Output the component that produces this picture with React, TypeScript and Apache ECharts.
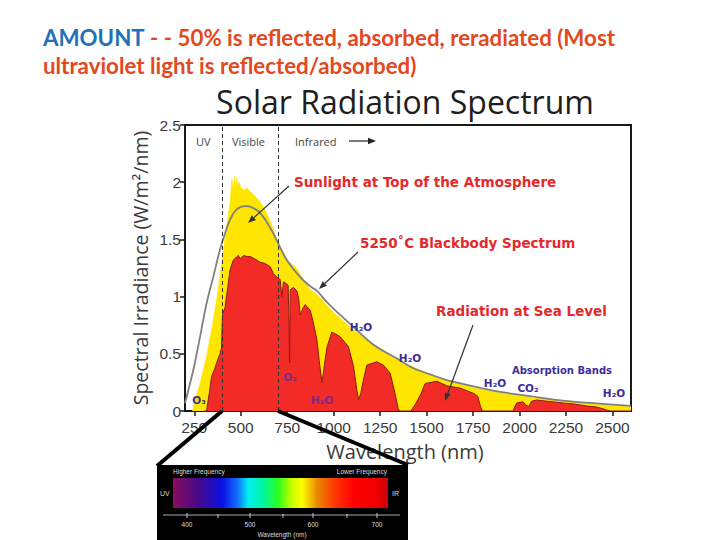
import React, { useEffect, useRef } from "react";
import * as echarts from "echarts";

// Sunlight at top of the atmosphere: [wavelength nm, irradiance W/m²/nm]
const topOfAtmosphere: [number, number][] = [
  [240, 0], [254, 0.1], [281, 0.24], [316, 0.48], [343, 0.71], [370, 0.97], [397, 1.29],
  [415, 1.52], [442, 1.82], [452, 2.03], [460, 1.95], [466, 2.05], [472, 1.96], [478, 2.04],
  [485, 1.97], [492, 2.0], [500, 1.96], [515, 1.93], [535, 1.95], [551, 1.92], [575, 1.88],
  [605, 1.83], [630, 1.76], [659, 1.66], [694, 1.5], [748, 1.32], [800, 1.25], [874, 1.06],
  [910, 1.02], [1000, 0.86], [1100, 0.72], [1200, 0.6], [1300, 0.5], [1400, 0.405],
  [1500, 0.335], [1600, 0.275], [1700, 0.23], [1800, 0.19], [1900, 0.16], [2000, 0.135],
  [2100, 0.115], [2200, 0.095], [2300, 0.08], [2400, 0.065], [2500, 0.052], [2600, 0.04],
];

// Radiation at sea level
const seaLevel: [number, number][] = [
  [305, 0], [316, 0], [330, 0.15], [343, 0.3], [360, 0.37], [370, 0.42], [388, 0.5],
  [396, 0.55], [402, 0.85], [415, 0.9], [430, 1.08], [442, 1.23], [460, 1.32], [487, 1.36],
  [497, 1.33], [515, 1.36], [533, 1.35], [551, 1.35], [575, 1.33], [605, 1.3], [630, 1.29],
  [659, 1.26], [676, 1.2], [694, 1.17], [712, 1.15], [721, 1.0], [730, 1.13], [739, 1.12],
  [755, 1.1], [760, 0.75], [763, 0.42], [766, 1.06], [784, 1.08], [802, 1.05], [812, 0.98],
  [820, 0.84], [835, 0.9], [847, 0.93], [874, 0.88], [891, 0.77], [910, 0.62], [925, 0.4],
  [937, 0.25], [950, 0.4], [963, 0.55], [990, 0.69], [1035, 0.65], [1080, 0.56], [1107, 0.39],
  [1125, 0.18], [1134, 0.1], [1145, 0.15], [1160, 0.27], [1178, 0.4], [1232, 0.43],
  [1268, 0.4], [1304, 0.33], [1330, 0.155], [1348, 0.01], [1360, 0], [1415, 0], [1440, 0.06],
  [1470, 0.15], [1492, 0.24], [1555, 0.26], [1609, 0.22], [1680, 0.2], [1752, 0.155],
  [1775, 0.13], [1790, 0.04], [1800, 0], [1965, 0], [1975, 0.04], [1985, 0.07], [2020, 0.08],
  [2035, 0.05], [2050, 0.04], [2065, 0.085], [2092, 0.096], [2150, 0.085], [2218, 0.073],
  [2300, 0.06], [2361, 0.044], [2415, 0.035], [2468, 0.01], [2490, 0], [2600, 0],
];

// 5250°C blackbody spectrum
const blackbody: [number, number][] = [
  [200, 0.07], [209, 0.125], [245, 0.36], [281, 0.65], [316, 0.94], [352, 1.17], [388, 1.41],
  [415, 1.55], [442, 1.67], [477, 1.76], [522, 1.79], [560, 1.78], [605, 1.73], [659, 1.6],
  [694, 1.49], [748, 1.32], [820, 1.17], [874, 1.09], [910, 1.05], [970, 0.94], [1035, 0.84],
  [1110, 0.73], [1214, 0.58], [1350, 0.45], [1420, 0.38], [1520, 0.32], [1600, 0.275],
  [1700, 0.235], [1850, 0.18], [1967, 0.15], [2100, 0.12], [2235, 0.09], [2400, 0.068],
  [2600, 0.045],
];

const xTickValues = [250, 500, 750, 1000, 1250, 1500, 1750, 2000, 2250, 2500];
const bandBoundaries = [400, 700];
const spectrumTickLabels = ["400", "500", "600", "700"];

const NAVY = "#3b2d9b";
const PURPLE = "#7b2a8f";
const RED_TXT = "#e5292b";

function arrow(x1: number, y1: number, x2: number, y2: number, color = "#333") {
  const ang = Math.atan2(y2 - y1, x2 - x1);
  const L = 8, W = 3.2;
  const bx = x2 - L * Math.cos(ang), by = y2 - L * Math.sin(ang);
  const px = -Math.sin(ang) * W, py = Math.cos(ang) * W;
  return {
    type: "group",
    children: [
      { type: "line", z: 100, shape: { x1, y1, x2: bx, y2: by }, style: { stroke: color, lineWidth: 1.2 } },
      {
        type: "polygon", z: 100,
        shape: { points: [[x2, y2], [bx + px, by + py], [bx - px, by - py]] },
        style: { fill: color },
      },
    ],
  };
}

function label(text: string, x: number, y: number, color: string, size = 10.5) {
  return {
    type: "text",
    x, y,
    style: {
      text, fill: color, font: `bold ${size}px "DejaVu Sans", sans-serif`,
      align: "center", verticalAlign: "middle",
    },
  };
}

export default function App() {
  const ref = useRef<HTMLDivElement>(null);
  useEffect(() => {
    const chart = echarts.init(ref.current!, null, { renderer: "svg" });
    const spectrumGradient = new echarts.graphic.LinearGradient(0, 0, 1, 0, [
      { offset: 0, color: "#8a0c5e" },
      { offset: 0.12, color: "#45098a" },
      { offset: 0.23, color: "#0a10e6" },
      { offset: 0.3, color: "#1070ff" },
      { offset: 0.35, color: "#00eef0" },
      { offset: 0.42, color: "#00f7a0" },
      { offset: 0.49, color: "#2cff1c" },
      { offset: 0.55, color: "#c2ff00" },
      { offset: 0.6, color: "#ffff00" },
      { offset: 0.67, color: "#e88a00" },
      { offset: 0.75, color: "#ff3a00" },
      { offset: 0.84, color: "#ff0000" },
      { offset: 0.95, color: "#f00000" },
      { offset: 1, color: "#c80010" },
    ]);
    const specTickX = [187, 218, 250, 283, 313, 347, 377];
    const annot = 'bold 13.5px "DejaVu Sans", sans-serif';
    const graphic: any[] = [
      {
        type: "text", x: 43, y: 37,
        style: {
          text: "{a|AMOUNT}{b| - - 50% is reflected, absorbed, reradiated (Most}",
          verticalAlign: "middle",
          rich: {
            a: { fill: "#1f72b8", font: 'bold 22.3px Lato, sans-serif' },
            b: { fill: "#e2491d", font: 'bold 22.3px Lato, sans-serif' },
          },
        },
      },
      {
        type: "text", x: 43, y: 65,
        style: {
          text: "ultraviolet light is reflected/absorbed)",
          fill: "#e2491d", font: 'bold 22.3px Lato, sans-serif', verticalAlign: "middle",
        },
      },
      {
        type: "text", x: 405, y: 101,
        style: {
          text: "Solar Radiation Spectrum", fill: "#1e1e1e",
          font: '32px "Open Sans", sans-serif', align: "center", verticalAlign: "middle",
        },
      },
      {
        type: "text", x: 140, y: 268, rotation: Math.PI / 2,
        style: {
          text: "Spectral Irradiance (W/m²/nm)", fill: "#3a3a3a",
          font: '19.5px "Open Sans", sans-serif', align: "center", verticalAlign: "middle",
        },
      },
      {
        type: "text", x: 405, y: 451,
        style: {
          text: "Wavelength (nm)", fill: "#3a3a3a",
          font: '20px "Open Sans", sans-serif', align: "center", verticalAlign: "middle",
        },
      },
      // band names
      { type: "text", x: 196, y: 141, style: { text: "UV", fill: "#444", font: '11px "Open Sans", sans-serif', verticalAlign: "middle" } },
      { type: "text", x: 232, y: 141, style: { text: "Visible", fill: "#444", font: '11px "Open Sans", sans-serif', verticalAlign: "middle" } },
      { type: "text", x: 295, y: 141, style: { text: "Infrared", fill: "#444", font: '11px "Open Sans", sans-serif', verticalAlign: "middle" } },
      arrow(349, 141, 376, 141, "#222"),
      // red annotations
      { type: "text", x: 294, y: 182, style: { text: "Sunlight at Top of the Atmosphere", fill: RED_TXT, font: annot, verticalAlign: "middle" } },
      { type: "text", x: 360, y: 243, style: { text: "5250˚C Blackbody Spectrum", fill: RED_TXT, font: annot, verticalAlign: "middle" } },
      { type: "text", x: 436, y: 311, style: { text: "Radiation at Sea Level", fill: RED_TXT, font: annot, verticalAlign: "middle" } },
      arrow(289, 186, 248, 223),
      arrow(358, 252, 319, 289),
      arrow(473, 325, 445, 401),
      // absorption labels
      label("H₂O", 361, 327, NAVY),
      label("H₂O", 410, 358, NAVY),
      label("H₂O", 322, 400, PURPLE),
      label("H₂O", 495, 383, NAVY),
      label("H₂O", 614, 393, NAVY),
      label("O₂", 290, 377, PURPLE),
      label("O₃", 199, 400, NAVY),
      label("CO₂", 528, 388, NAVY),
      label("Absorption Bands", 562, 370, NAVY, 10),
      // connector lines
      { type: "line", shape: { x1: 222, y1: 411, x2: 157, y2: 466 }, style: { stroke: "#000", lineWidth: 4 } },
      { type: "line", shape: { x1: 278, y1: 411, x2: 408, y2: 465 }, style: { stroke: "#000", lineWidth: 4 } },
      // visible spectrum inset
      { type: "rect", shape: { x: 157, y: 465, width: 251, height: 75 }, style: { fill: "#000" } },
      { type: "rect", shape: { x: 173, y: 478, width: 215, height: 30 }, style: { fill: spectrumGradient } },
      { type: "text", x: 173, y: 471, style: { text: "Higher Frequency", fill: "#ddd", font: '6.5px "Liberation Sans", sans-serif', verticalAlign: "middle" } },
      { type: "text", x: 387, y: 471, style: { text: "Lower Frequency", fill: "#ddd", font: '6.5px "Liberation Sans", sans-serif', align: "right", verticalAlign: "middle" } },
      { type: "text", x: 160, y: 493, style: { text: "UV", fill: "#ddd", font: '7px "Liberation Sans", sans-serif', verticalAlign: "middle" } },
      { type: "text", x: 399, y: 493, style: { text: "IR", fill: "#ddd", font: '7px "Liberation Sans", sans-serif', align: "right", verticalAlign: "middle" } },
      { type: "line", shape: { x1: 163, y1: 515, x2: 400, y2: 515 }, style: { stroke: "#aaa", lineWidth: 1 } },
      ...specTickX.map((tx, i) => ({
        type: "line", shape: { x1: tx, y1: i % 2 === 0 ? 513 : 514, x2: tx, y2: 518 }, style: { stroke: "#ccc", lineWidth: 1 },
      })),
      ...spectrumTickLabels.map((t, i) => ({
        type: "text", x: specTickX[i * 2], y: 524,
        style: { text: t, fill: "#ddd", font: '6.5px "Liberation Sans", sans-serif', align: "center", verticalAlign: "middle" },
      })),
      { type: "text", x: 282, y: 534, style: { text: "Wavelength (nm)", fill: "#ddd", font: '6.5px "Liberation Sans", sans-serif', align: "center", verticalAlign: "middle" } },
    ].map((g) => ({ ...g, z: 100 }));

    chart.setOption({
      animation: false,
      backgroundColor: "#fff",
      grid: {
        left: 185, right: 89, top: 125, bottom: 129,
        show: true, borderColor: "#1a1a1a", borderWidth: 2, backgroundColor: "#fff",
      },
      xAxis: {
        type: "value", min: 200, max: 2600,
        splitLine: { show: false },
        axisLine: { show: true, onZero: false, lineStyle: { color: "#1a1a1a", width: 2 } },
        axisTick: { show: true, customValues: xTickValues, length: 5, lineStyle: { color: "#1a1a1a", width: 1.5 } },
        axisLabel: {
          customValues: xTickValues, fontSize: 15.5, color: "#3a3a3a", margin: 8,
          fontFamily: "Liberation Sans", formatter: (v: number) => String(v),
        },
      },
      yAxis: {
        type: "value", min: 0, max: 2.5, interval: 0.5,
        splitLine: { show: false },
        axisLine: { show: true, lineStyle: { color: "#1a1a1a", width: 2 } },
        axisTick: { show: true, length: 5, lineStyle: { color: "#1a1a1a", width: 1.5 } },
        axisLabel: { fontSize: 15.5, color: "#3a3a3a", margin: 4, fontFamily: "Liberation Sans" },
      },
      series: [
        {
          type: "line", data: topOfAtmosphere, symbol: "none", z: 1,
          lineStyle: { color: "#ffe600", width: 0.5 },
          areaStyle: { color: "#ffe600", opacity: 1 },
        },
        {
          type: "line", data: seaLevel, symbol: "none", z: 2,
          lineStyle: { color: "#8a1c12", width: 1 },
          areaStyle: { color: "#f22b26", opacity: 1 },
        },
        {
          type: "line", data: blackbody, symbol: "none", smooth: 0.4, z: 3,
          lineStyle: { color: "#808080", width: 1.8 },
          markLine: {
            silent: true, symbol: ["none", "none"], label: { show: false },
            lineStyle: { color: "#333", type: [4, 3], width: 1 },
            emphasis: { disabled: true },
            data: bandBoundaries.map((v) => ({ xAxis: v })),
          },
        },
      ],
      graphic,
    });
    return () => chart.dispose();
  }, []);
  return (
    <div
      ref={ref}
      style={{ position: "fixed", left: 0, top: 0, width: 720, height: 540, background: "#fff" }}
    />
  );
}
